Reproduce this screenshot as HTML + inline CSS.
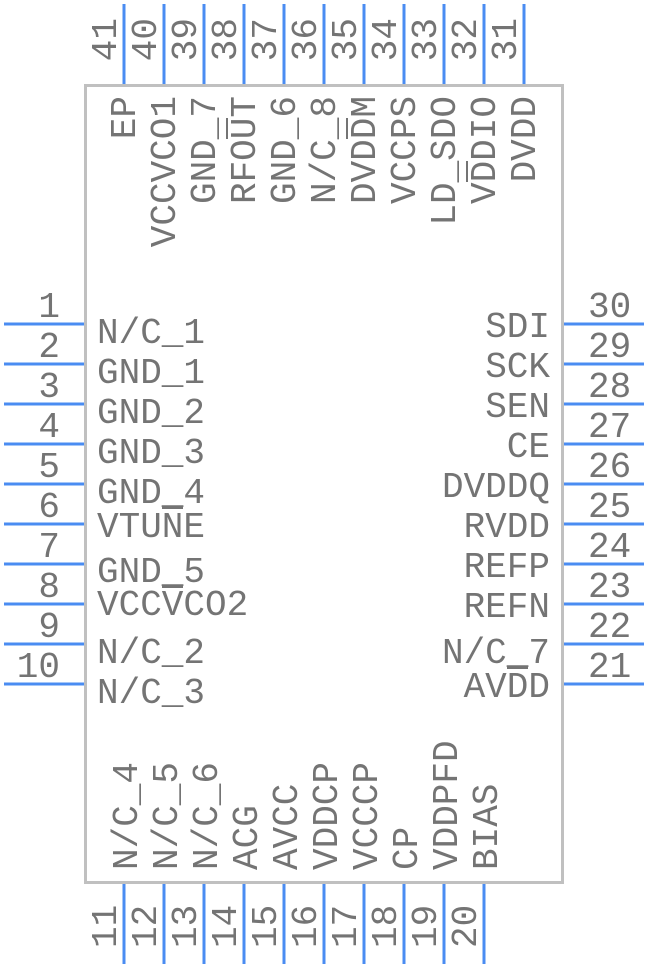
<!DOCTYPE html>
<html><head><meta charset="utf-8"><style>
html,body{margin:0;padding:0;background:#fff}
svg text{font-family:"Liberation Mono",monospace;font-size:36px;fill:#747474}
</style></head><body>
<svg width="648" height="968" xmlns="http://www.w3.org/2000/svg">
<rect x="85.5" y="85.5" width="477" height="797" fill="none" stroke="#c0c0c0" stroke-width="3"/>
<g stroke="#4a8cf2" stroke-width="3">
<line x1="4" y1="324" x2="84" y2="324"/><line x1="4" y1="364" x2="84" y2="364"/><line x1="4" y1="404" x2="84" y2="404"/><line x1="4" y1="444" x2="84" y2="444"/><line x1="4" y1="484" x2="84" y2="484"/><line x1="4" y1="524" x2="84" y2="524"/><line x1="4" y1="564" x2="84" y2="564"/><line x1="4" y1="604" x2="84" y2="604"/><line x1="4" y1="644" x2="84" y2="644"/><line x1="4" y1="684" x2="84" y2="684"/>
<line x1="564" y1="324" x2="644" y2="324"/><line x1="564" y1="364" x2="644" y2="364"/><line x1="564" y1="404" x2="644" y2="404"/><line x1="564" y1="444" x2="644" y2="444"/><line x1="564" y1="484" x2="644" y2="484"/><line x1="564" y1="524" x2="644" y2="524"/><line x1="564" y1="564" x2="644" y2="564"/><line x1="564" y1="604" x2="644" y2="604"/><line x1="564" y1="644" x2="644" y2="644"/><line x1="564" y1="684" x2="644" y2="684"/>
<line x1="124" y1="4" x2="124" y2="84"/><line x1="164" y1="4" x2="164" y2="84"/><line x1="204" y1="4" x2="204" y2="84"/><line x1="244" y1="4" x2="244" y2="84"/><line x1="284" y1="4" x2="284" y2="84"/><line x1="324" y1="4" x2="324" y2="84"/><line x1="364" y1="4" x2="364" y2="84"/><line x1="404" y1="4" x2="404" y2="84"/><line x1="444" y1="4" x2="444" y2="84"/><line x1="484" y1="4" x2="484" y2="84"/><line x1="524" y1="4" x2="524" y2="84"/>
<line x1="124" y1="884" x2="124" y2="964"/><line x1="164" y1="884" x2="164" y2="964"/><line x1="204" y1="884" x2="204" y2="964"/><line x1="244" y1="884" x2="244" y2="964"/><line x1="284" y1="884" x2="284" y2="964"/><line x1="324" y1="884" x2="324" y2="964"/><line x1="364" y1="884" x2="364" y2="964"/><line x1="404" y1="884" x2="404" y2="964"/><line x1="444" y1="884" x2="444" y2="964"/><line x1="484" y1="884" x2="484" y2="964"/>
</g>
<g fill="#747474">
<rect x="162" y="507" width="21" height="2"/>
<rect x="162" y="586" width="21" height="2"/>
<rect x="507" y="667" width="21" height="2"/>
<rect x="226" y="118" width="2" height="21"/>
<rect x="346" y="118" width="2" height="21"/>
<rect x="466" y="161" width="2" height="21"/>
</g>
<g text-anchor="end">
<text x="60" y="317">1</text><text x="60" y="357">2</text><text x="60" y="397">3</text><text x="60" y="437">4</text><text x="60" y="477">5</text><text x="60" y="517">6</text><text x="60" y="557">7</text><text x="60" y="597">8</text><text x="60" y="637">9</text><text x="60" y="677">10</text>
</g>
<g>
<text x="588" y="317">30</text><text x="588" y="357">29</text><text x="588" y="397">28</text><text x="588" y="437">27</text><text x="588" y="477">26</text><text x="588" y="517">25</text><text x="588" y="557">24</text><text x="588" y="597">23</text><text x="588" y="637">22</text><text x="588" y="677">21</text>
</g>
<g>
<text x="97" y="343">N/C_1</text><text x="97" y="383">GND_1</text><text x="97" y="423">GND_2</text><text x="97" y="463">GND_3</text><text x="97" y="503">GND_4</text>
<text x="97" y="537">VTUNE</text><text x="97" y="582">GND_5</text><text x="97" y="615">VCCVCO2</text>
<text x="97" y="663">N/C_2</text><text x="97" y="703">N/C_3</text>
</g>
<g text-anchor="end">
<text x="550" y="337">SDI</text><text x="550" y="377">SCK</text><text x="550" y="417">SEN</text><text x="550" y="457">CE</text><text x="550" y="497">DVDDQ</text><text x="550" y="537">RVDD</text><text x="550" y="577">REFP</text><text x="550" y="617">REFN</text><text x="550" y="663">N/C_7</text><text x="550" y="697">AVDD</text>
</g>
<g text-anchor="end">
<text transform="translate(116,18) rotate(-90)">41</text><text transform="translate(156,18) rotate(-90)">40</text><text transform="translate(196,18) rotate(-90)">39</text><text transform="translate(236,18) rotate(-90)">38</text><text transform="translate(276,18) rotate(-90)">37</text><text transform="translate(316,18) rotate(-90)">36</text><text transform="translate(356,18) rotate(-90)">35</text><text transform="translate(396,18) rotate(-90)">34</text><text transform="translate(436,18) rotate(-90)">33</text><text transform="translate(476,18) rotate(-90)">32</text><text transform="translate(516,18) rotate(-90)">31</text>
</g>
<g text-anchor="end">
<text transform="translate(135,96) rotate(-90)">EP</text>
<text transform="translate(175,96) rotate(-90)">VCCVCO1</text>
<text transform="translate(215,96) rotate(-90)">GND_7</text>
<text transform="translate(255,96) rotate(-90)">RFOUT</text>
<text transform="translate(295,96) rotate(-90)">GND_6</text>
<text transform="translate(335,96) rotate(-90)">N/C_8</text>
<text transform="translate(375,96) rotate(-90)">DVDDM</text>
<text transform="translate(415,96) rotate(-90)">VCCPS</text>
<text transform="translate(455,96) rotate(-90)">LD_SDO</text>
<text transform="translate(495,96) rotate(-90)">VDDIO</text>
<text transform="translate(535,96) rotate(-90)">DVDD</text>
</g>
<g>
<text transform="translate(116,948) rotate(-90)">11</text><text transform="translate(156,948) rotate(-90)">12</text><text transform="translate(196,948) rotate(-90)">13</text><text transform="translate(236,948) rotate(-90)">14</text><text transform="translate(276,948) rotate(-90)">15</text><text transform="translate(316,948) rotate(-90)">16</text><text transform="translate(356,948) rotate(-90)">17</text><text transform="translate(396,948) rotate(-90)">18</text><text transform="translate(436,948) rotate(-90)">19</text><text transform="translate(476,948) rotate(-90)">20</text>
</g>
<g>
<text transform="translate(137,870) rotate(-90)">N/C_4</text>
<text transform="translate(177,870) rotate(-90)">N/C_5</text>
<text transform="translate(217,870) rotate(-90)">N/C_6</text>
<text transform="translate(257,870) rotate(-90)">ACG</text>
<text transform="translate(297,870) rotate(-90)">AVCC</text>
<text transform="translate(337,870) rotate(-90)">VDDCP</text>
<text transform="translate(377,870) rotate(-90)">VCCCP</text>
<text transform="translate(417,870) rotate(-90)">CP</text>
<text transform="translate(457,870) rotate(-90)">VDDPFD</text>
<text transform="translate(497,870) rotate(-90)">BIAS</text>
</g>
</svg>
</body></html>
